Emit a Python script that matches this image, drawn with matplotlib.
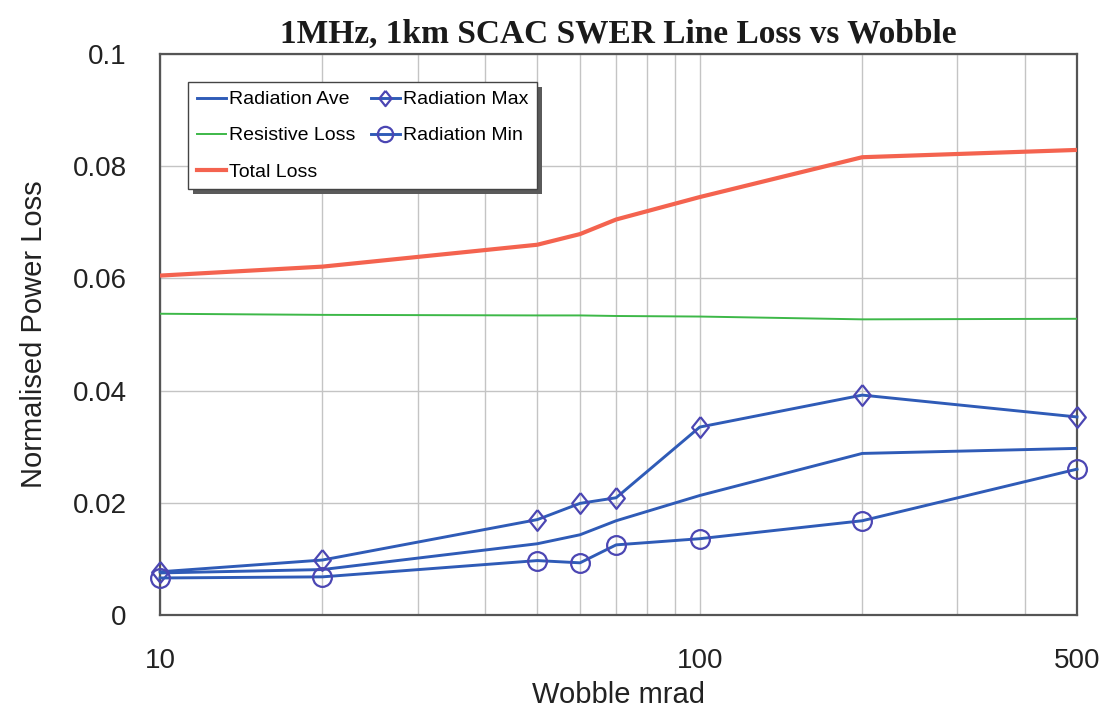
import matplotlib
matplotlib.use("Agg")
import matplotlib.pyplot as plt
from matplotlib.patches import Rectangle
from matplotlib.ticker import FixedLocator, NullFormatter, LogLocator

# Wobble angle (mrad) at which each case was evaluated
wobble = [10, 20, 50, 60, 70, 100, 200, 500]

# Normalised power loss for each series
radiation_ave = [0.0075, 0.0081, 0.0127, 0.0143, 0.0168, 0.0213, 0.0288, 0.0297]
radiation_max = [0.0077, 0.0098, 0.0170, 0.0199, 0.0209, 0.0335, 0.0392, 0.0353]
radiation_min = [0.0066, 0.0068, 0.0097, 0.0093, 0.0125, 0.0136, 0.0168, 0.0260]
resistive_loss = [0.0537, 0.0535, 0.0534, 0.0534, 0.0533, 0.0532, 0.0527, 0.0528]
total_loss = [0.0605, 0.0621, 0.0660, 0.0679, 0.0705, 0.0745, 0.0816, 0.0829]

x_ticks = [10, 100, 500]
x_tick_labels = ["10", "100", "500"]
y_ticks = [0, 0.02, 0.04, 0.06, 0.08, 0.1]
y_tick_labels = ["0", "0.02", "0.04", "0.06", "0.08", "0.1"]

title = "1MHz, 1km SCAC SWER Line Loss vs Wobble"
x_label = "Wobble mrad"
y_label = "Normalised Power Loss"

plt.rcParams["font.family"] = ["Liberation Sans", "DejaVu Sans"]

W, H = 1105, 713
fig = plt.figure(figsize=(W / 100, H / 100), dpi=100)
ax = fig.add_axes([160 / W, 1 - 615 / H, (1077 - 160) / W, (615 - 54) / H])

blue = "#2f5bb7"
mark = "#4b46b3"
# slightly narrow diamond marker
diamond = [(0, 1), (0.8, 0), (0, -1), (-0.8, 0), (0, 1)]

l_ave, = ax.plot(wobble, radiation_ave, color=blue, lw=2.1, label="Radiation Ave", zorder=4)
l_res, = ax.plot(wobble, resistive_loss, color="#3db848", lw=1.4, label="Resistive Loss", zorder=3)
l_tot, = ax.plot(wobble, total_loss, color="#f4634f", lw=3.0, label="Total Loss", zorder=3,
                 solid_joinstyle="round")
l_max, = ax.plot(wobble, radiation_max, color=blue, lw=2.1, marker=diamond, ms=15,
                 mfc="none", mec=mark, mew=1.6, label="Radiation Max", zorder=5, clip_on=False)
l_min, = ax.plot(wobble, radiation_min, color=blue, lw=2.1, marker="o", ms=13.5,
                 mfc="none", mec=mark, mew=1.6, label="Radiation Min", zorder=5, clip_on=False)

ax.set_xscale("log")
ax.set_xlim(10, 500)
ax.set_ylim(0, 0.1)

ax.xaxis.set_major_locator(FixedLocator(x_ticks))
ax.set_xticklabels(x_tick_labels)
ax.xaxis.set_minor_locator(LogLocator(base=10, subs=range(2, 10)))
ax.xaxis.set_minor_formatter(NullFormatter())
ax.set_yticks(y_ticks)
ax.set_yticklabels(y_tick_labels)

ax.tick_params(axis="both", which="both", length=0, labelsize=20, colors="#222222")
ax.tick_params(axis="y", pad=24)
ax.tick_params(axis="x", pad=24)

ax.grid(True, which="both", axis="x", color="#c4c4c4", lw=1.0)
ax.grid(True, which="major", axis="y", color="#c4c4c4", lw=1.0)
ax.set_axisbelow(True)

for s in ax.spines.values():
    s.set_color("#555555")
    s.set_linewidth(1.6)

ax.set_xlabel(x_label, fontsize=21, color="#222222", labelpad=5)
ax.set_ylabel(y_label, fontsize=21, color="#222222", labelpad=18)
ax.set_title(title, fontsize=24, fontweight="bold", family="Liberation Serif",
             color="#1a1a1a", pad=8)

leg = ax.legend(handles=[l_ave, l_res, l_tot, l_max, l_min], ncol=2,
                loc="upper left", bbox_to_anchor=(188 / W, 1 - 82 / H),
                bbox_transform=fig.transFigure, borderaxespad=0,
                fontsize=14, frameon=True, fancybox=False, framealpha=1,
                edgecolor="#444444", handlelength=1.5, handletextpad=0.15,
                columnspacing=0.8, labelspacing=0.95, borderpad=0.45)
leg.get_frame().set_linewidth(1.0)
leg.set_zorder(10)
for h in leg.legend_handles:
    h.set_markersize(11)

# drop shadow under the legend box
fig.canvas.draw()
bb = leg.get_window_extent().transformed(fig.transFigure.inverted())
shadow = Rectangle((bb.x0 + 5 / W, bb.y0 - 5 / H), bb.width, bb.height,
                   transform=fig.transFigure, facecolor="#5a5a5a",
                   edgecolor="none", zorder=9, clip_on=False)
ax.add_patch(shadow)

fig.savefig("out.png", dpi=100, facecolor="white")
